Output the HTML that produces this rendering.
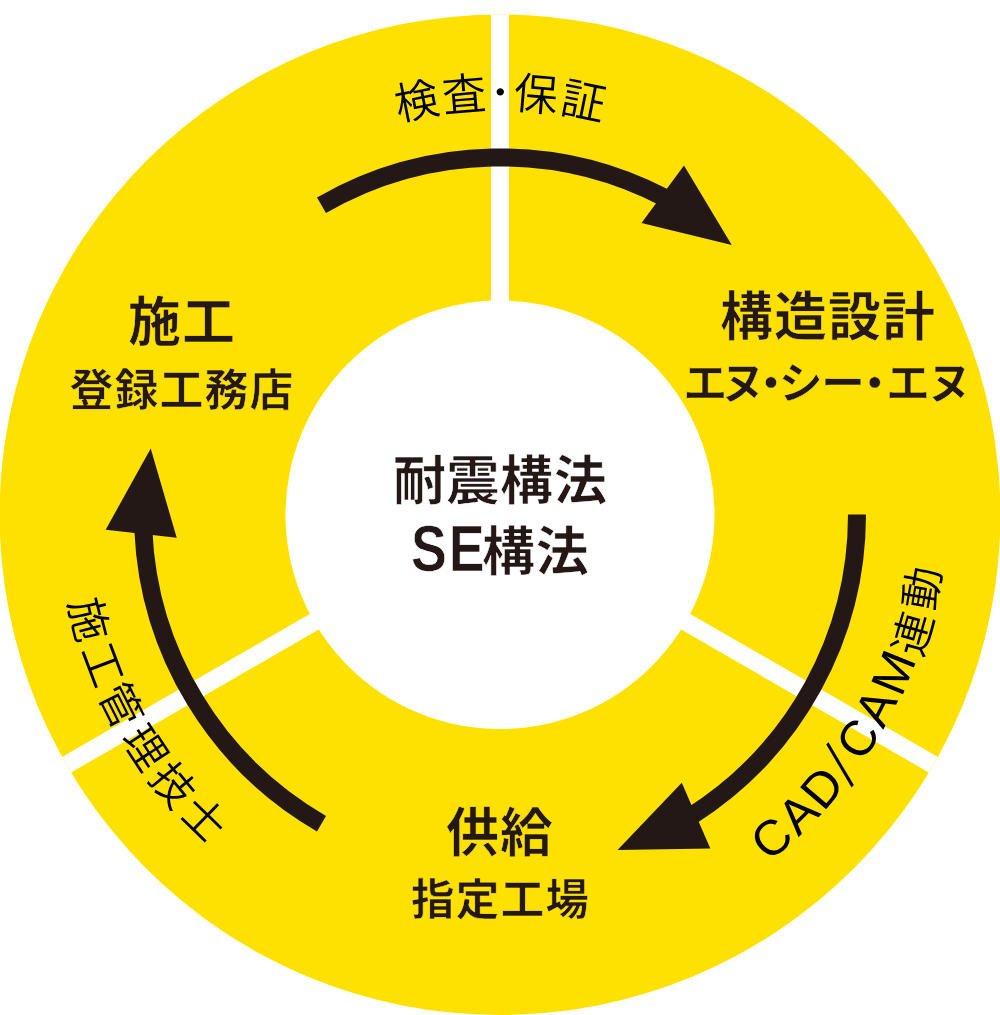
<!DOCTYPE html>
<html lang="ja">
<head>
<meta charset="utf-8">
<title>耐震構法 SE構法</title>
<style>
html,body{margin:0;padding:0;background:#fff;}
body{width:1000px;height:1015px;overflow:hidden;}
svg{display:block;will-change:transform;}
text{font-family:"Liberation Sans","Noto Sans CJK JP",sans-serif;fill:#231815;}
.b{font-weight:700;stroke:#ffe100;stroke-linejoin:round;}
.w{stroke:#fff;}
.r{font-weight:400;fill:#000;}
.l{font-weight:350;fill:#000;}
</style>
</head>
<body>
<svg width="1000" height="1015" viewBox="0 0 1000 1015">
<rect width="1000" height="1015" fill="#fff"/>
<ellipse cx="500.0" cy="514.75" rx="500.4" ry="500.25" fill="#ffe100"/>
<clipPath id="ring"><ellipse cx="500.0" cy="514.75" rx="500.4" ry="500.25"/></clipPath>
<g clip-path="url(#ring)"><rect x="491.0" y="9.5" width="18.0" height="295.5" fill="#fff" transform="rotate(0 500.0 514.5)"/><rect x="491.0" y="9.5" width="18.0" height="295.5" fill="#fff" transform="rotate(120 500.0 514.5)"/><rect x="491.0" y="9.5" width="18.0" height="295.5" fill="#fff" transform="rotate(240 500.0 514.5)"/></g>
<ellipse cx="500.0" cy="514.8" rx="214.5" ry="214.2" fill="#fff"/>
<path d="M321.50 205.33A357.0 357.0 0 0 1 664.84 197.84" fill="none" stroke="#231815" stroke-width="18.0"/><polygon points="684.00,165.40 731.75,245.00 641.50,222.90" fill="#231815"/>
<path d="M857.00 514.50A357.0 357.0 0 0 1 691.82 815.59" fill="none" stroke="#231815" stroke-width="18.0"/><polygon points="710.33,848.40 617.52,849.95 681.78,782.84" fill="#231815"/>
<path d="M321.50 823.67A357.0 357.0 0 0 1 143.34 530.07" fill="none" stroke="#231815" stroke-width="18.0"/><polygon points="105.67,529.70 150.73,448.55 176.72,537.76" fill="#231815"/>
<text class="l" font-size="44" x="398.21 443.41 482.36 512.75 558.66" y="120.98 111.98 105.56 108.22 112.28" rotate="348.60 355.10 0.05 4.90 11.40">検査<tspan font-size="36">・</tspan>保証</text>
<text class="l" font-size="43" x="68.19 80.67 97.13 120.32 147.16 177.74" y="602.38 649.97 693.06 738.18 778.49 815.05" rotate="75.70 69.30 63.30 56.70 50.40 44.20">施工管理技士</text>
<text class="l" font-size="43" x="768.70 798.41 823.50 844.78 862.66 883.38 901.50 922.01 933.83" y="862.52 837.34 812.28 782.03 763.09 729.66 698.12 658.68 612.04" rotate="320.00 315.10 310.30 312.35 302.10 297.15 291.90 286.10 279.90"><tspan font-size="49.5">CAD</tspan><tspan font-size="49" font-family="Noto Sans CJK JP, sans-serif" font-weight="400">/</tspan><tspan font-size="49.5">CAM</tspan>連動</text>
<text class="b" font-size="53" stroke-width="0.6" y="341" x="128 182">施工</text>
<text class="b" font-size="44" stroke-width="0.6" y="405.5" x="69.5 114.5 159.5 204.5 249.5">登録工務店</text>
<text class="b" font-size="53" stroke-width="0.6" y="336" x="720 774 828 882">構造設計</text>
<text class="b" font-size="44" stroke-width="0.6" y="399" x="683.3 720.9 749.05 778.85 821.1 852.75 885.9 927.4">エヌ・シー・エヌ</text>
<text class="b w" font-size="53" stroke-width="0.6" y="500" x="393 446.3 500 554">耐震構法</text>
<text class="b w" font-size="64.4" stroke-width="0.7" transform="translate(411.1 571.3) scale(0.834 1)" x="0 45.14" y="0">SE</text>
<text class="b w" font-size="53" stroke-width="0.6" y="571" x="482 535.7">構法</text>
<text class="b" font-size="53" stroke-width="0.6" y="851.7" x="446 500">供給</text>
<text class="b" font-size="43.5" stroke-width="0.6" y="915" x="410.9 455.8 500.7 545.6">指定工場</text>
</svg>
</body>
</html>
